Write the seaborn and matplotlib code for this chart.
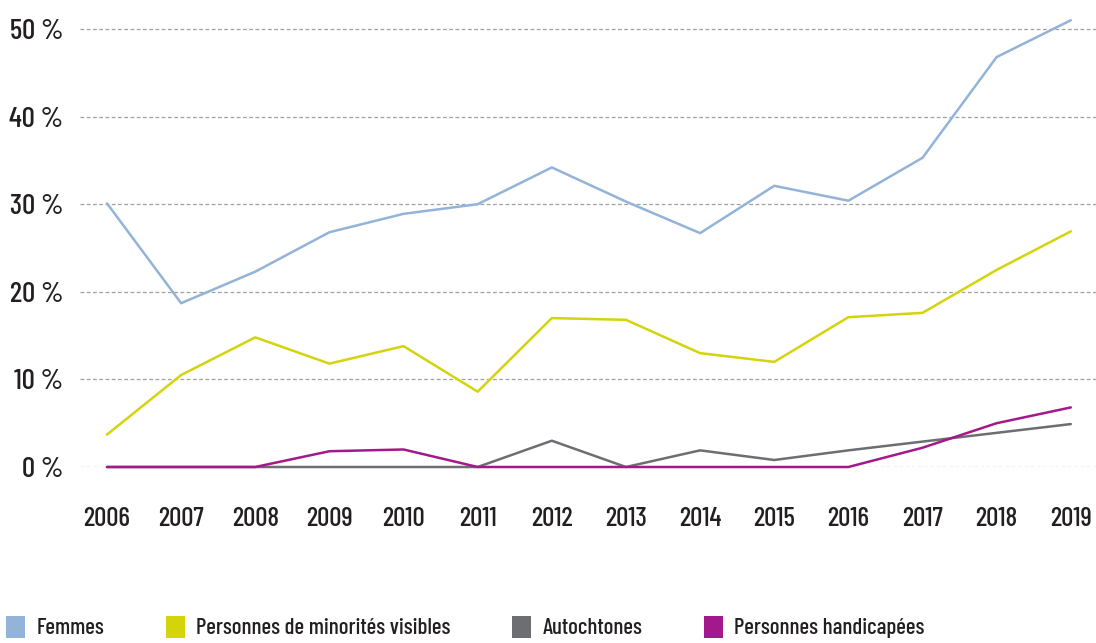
import matplotlib
matplotlib.use("Agg")
import matplotlib.pyplot as plt
from matplotlib.patches import Patch
import seaborn as sns
import pandas as pd

years = [2006, 2007, 2008, 2009, 2010, 2011, 2012, 2013, 2014, 2015, 2016, 2017, 2018, 2019]
femmes = [30.1, 18.7, 22.3, 26.8, 28.9, 30.0, 34.2, 30.3, 26.7, 32.1, 30.4, 35.3, 46.8, 51.0]
minorites = [3.7, 10.5, 14.8, 11.8, 13.8, 8.6, 17.0, 16.8, 13.0, 12.0, 17.1, 17.6, 22.5, 26.9]
autochtones = [0, 0, 0, 0, 0, 0, 3.0, 0, 1.9, 0.8, 1.9, 2.9, 3.9, 4.9]
handicapees = [0, 0, 0, 1.8, 2.0, 0, 0, 0, 0, 0, 0, 2.2, 5.0, 6.8]

series_names = ["Femmes", "Personnes de minorités visibles", "Autochtones", "Personnes handicapées"]
series_values = [femmes, minorites, autochtones, handicapees]
colors = ["#94b3d8", "#d4d40c", "#6d6e71", "#a3198b"]

rows = []
for name, vals in zip(series_names, series_values):
    for i, (y, v) in enumerate(zip(years, vals)):
        rows.append({"idx": i, "year": y, "value": v, "serie": name})
df = pd.DataFrame(rows)

sns.set_theme(style="white")
plt.rcParams["font.family"] = ["Barlow Condensed", "DejaVu Sans"]
plt.rcParams["font.weight"] = "medium"

fig = plt.figure(figsize=(10.96, 6.43), dpi=100)
ax = fig.add_axes([80 / 1096, 1 - 467 / 643, 1016 / 1096, (467 - 11.5) / 643])

sns.lineplot(data=df, x="idx", y="value", hue="serie", hue_order=series_names,
             palette=colors, linewidth=1.8, ax=ax, legend=False, clip_on=False)

ax.set_xlim(-0.364, 13.34)
ax.set_ylim(0, 52)
ax.set_yticks([0, 10, 20, 30, 40, 50])
ax.set_yticklabels([f"{t} %" for t in [0, 10, 20, 30, 40, 50]], fontsize=21, color="#231f20")
ax.set_xticks(range(len(years)))
ax.set_xticklabels([str(y) for y in years], fontsize=19.5, color="#231f20")
ax.tick_params(axis="y", length=0, pad=12)
ax.tick_params(axis="x", length=0, pad=29)
ax.set_xlabel("")
ax.set_ylabel("")
for s in ax.spines.values():
    s.set_visible(False)
for t in [0, 10, 20, 30, 40, 50]:
    ax.axhline(t, color="#a0a0a0", linestyle=(0, (3, 2)), linewidth=0.9, zorder=0)

handles = [Patch(facecolor=c, edgecolor="none") for c in colors]
fig.legend(handles, series_names, loc="lower left", bbox_to_anchor=(-0.013, -0.025),
           ncol=4, frameon=False, fontsize=16.5, handlelength=0.83, handleheight=1.1,
           handletextpad=0.48, columnspacing=2.7, labelcolor="#231f20")

fig.savefig("out.png", dpi=100)
